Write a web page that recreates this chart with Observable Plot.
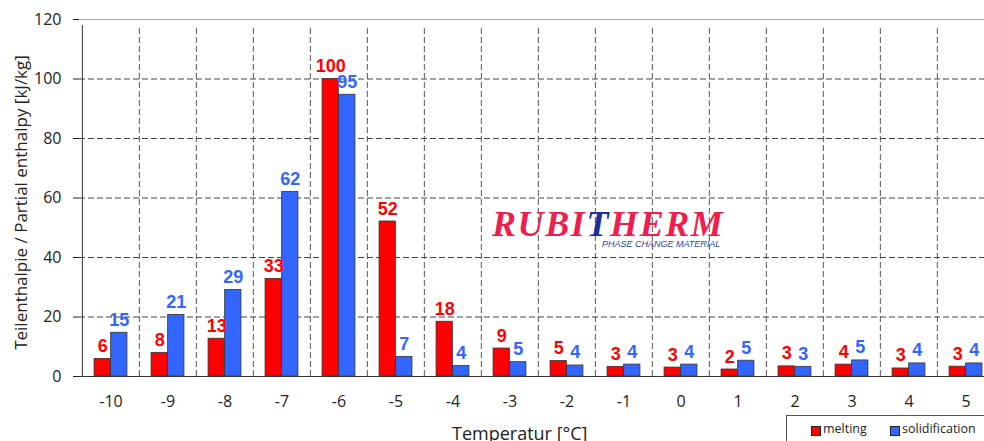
<!DOCTYPE html>
<html><head><meta charset="utf-8">
<script src="https://cdn.jsdelivr.net/npm/d3@7"></script>
<script src="https://cdn.jsdelivr.net/npm/@observablehq/plot@0.6"></script>
<style>
html,body{margin:0;padding:0;background:#fff;overflow:hidden;width:984px;height:441px}
#wrap{position:relative;width:984px;height:441px;font-family:"Open Sans",sans-serif;color:#222}
#footer{position:relative;height:29px}
#xtitle{position:absolute;left:452px;top:9px;font-size:18px;white-space:nowrap}
#legendbox{position:absolute;left:786px;top:415px;width:240px;height:40px;border:1px solid #555;box-sizing:border-box}
.sw{position:absolute;width:8px;height:8px;border:1px solid #222;top:426px}
.lt{position:absolute;font-size:12.5px;top:420px;white-space:nowrap}
#logo{position:absolute;left:492px;top:208.5px;font-family:"Liberation Serif",serif;font-style:italic;font-weight:bold;font-size:36px;line-height:30px;color:#ee1f4f;letter-spacing:1.6px;white-space:nowrap}
#logo .t{color:#1b2f9b}
#logosub{position:absolute;left:602px;top:239.5px;font-family:"Liberation Sans",sans-serif;font-style:italic;font-size:9px;line-height:9px;color:#2a3fa0;white-space:nowrap}
</style></head>
<body><div id="wrap">
<div id="chart"></div>
<div id="footer"><span id="xtitle">Temperatur [°C]</span></div>
<div id="legendbox"></div>
<div class="sw" style="left:811px;background:#ff0000"></div>
<div class="lt" id="lt1" style="left:823px"></div>
<div class="sw" style="left:890px;background:#3366ff"></div>
<div class="lt" id="lt2" style="left:902px"></div>
<div id="logo">RUBI<span class="t">T</span>HERM</div>
<div id="logosub">PHASE CHANGE MATERIAL</div>
</div>
<script>
const temperatures = [-10, -9, -8, -7, -6, -5, -4, -3, -2, -1, 0, 1, 2, 3, 4, 5];
const melting = [5.9, 7.95, 12.7, 32.8, 100, 52.1, 18.4, 9.4, 5.2, 3.25, 3.0, 2.35, 3.4, 4.0, 2.7, 3.3];
const solidification = [14.7, 20.7, 29.1, 62, 94.7, 6.6, 3.5, 4.8, 3.7, 4.0, 4.0, 5.3, 3.25, 5.4, 4.4, 4.4];
const yTicks = [0, 20, 40, 60, 80, 100, 120];
const gridValues = [20, 40, 60, 80, 100];
const seriesNames = ["melting", "solidification"];
const yTitle = "Teilenthalpie / Partial enthalpy [kJ/kg]";

document.getElementById("lt1").textContent = seriesNames[0];
document.getElementById("lt2").textContent = seriesNames[1];

const rows = temperatures.map((t, i) => ({t, m: melting[i], s: solidification[i]}));
const fmt = d3.format(".0f");

const W = 984, H = 412, mL = 79, mR = -12, mT = 19, mB = 36;
const bw = (W - mR - mL) / temperatures.length;
const barW = 16.6;
const inner = bw / 2 - barW;
const RED = "#ff0000", BLUE = "#3366ff";

const chart = Plot.plot({
  width: W, height: H,
  marginLeft: mL, marginRight: mR, marginTop: mT, marginBottom: mB,
  style: {fontFamily: "Open Sans", fontSize: "16px", color: "#222", background: "transparent"},
  x: {type: "band", domain: temperatures, padding: 0, tickSize: 0, tickPadding: 19, tickFormat: d => String(d), label: null},
  y: {domain: [0, 120], ticks: yTicks, tickSize: 6, tickPadding: 12, tickFormat: d => String(d), label: null},
  marks: [
    Plot.ruleY(gridValues, {stroke: "#444", strokeDasharray: "6,3", strokeWidth: 1}),
    Plot.ruleY([120], {stroke: "#aaa", strokeWidth: 1}),
    Plot.ruleX(temperatures.slice(1), {x: d => d, dx: -bw / 2, y1: 0, y2: 120, stroke: "#555", strokeDasharray: "6,3", insetBottom: -6}),
    Plot.barY(rows, {x: "t", y: "m", fill: RED, stroke: "#333", strokeWidth: 0.8, insetLeft: inner, insetRight: bw - inner - barW}),
    Plot.barY(rows, {x: "t", y: "s", fill: BLUE, stroke: "#333", strokeWidth: 0.8, insetLeft: bw / 2, insetRight: inner}),
    Plot.ruleY([0], {stroke: "#333", strokeWidth: 1}),
    Plot.ruleX([temperatures[0]], {x: d => d, dx: -bw / 2, y1: 0, y2: 120, stroke: "#333", strokeWidth: 1, insetBottom: -6}),
    Plot.text(rows, {x: "t", y: "m", text: d => fmt(d.m), dx: -barW / 2, dy: -7, lineAnchor: "bottom", fill: RED, fontWeight: "bold", fontSize: 18, fontFamily: "Liberation Sans"}),
    Plot.text(rows, {x: "t", y: "s", text: d => fmt(d.s), dx: barW / 2, dy: -7, lineAnchor: "bottom", fill: BLUE, fontWeight: "bold", fontSize: 18, fontFamily: "Liberation Sans"}),
    Plot.text([yTitle], {text: d => d, frameAnchor: "left", textAnchor: "middle", rotate: -90, dx: -58, dy: 4.5, fontSize: 17, fill: "#222"})
  ]
});
document.getElementById("chart").appendChild(chart);
</script>
</body></html>
